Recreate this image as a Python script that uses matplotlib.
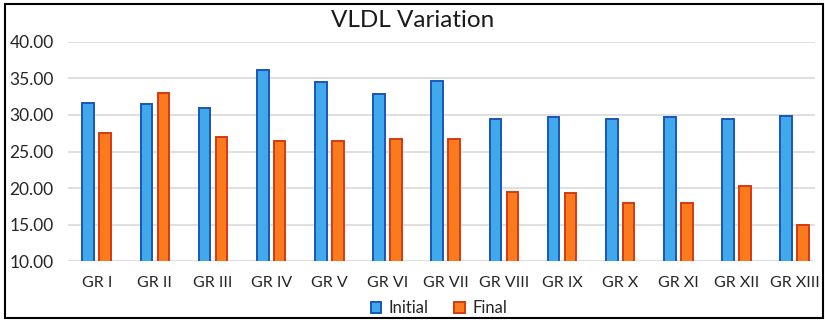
import matplotlib.pyplot as plt
import numpy as np

groups = ["GR I", "GR II", "GR III", "GR IV", "GR V", "GR VI", "GR VII",
          "GR VIII", "GR IX", "GR X", "GR XI", "GR XII", "GR XIII"]
initial = [31.6, 31.5, 30.9, 36.2, 34.5, 32.9, 34.7, 29.45, 29.7, 29.45, 29.7, 29.45, 29.8]
final = [27.5, 33.0, 27.0, 26.5, 26.5, 26.7, 26.7, 19.4, 19.3, 18.0, 18.0, 20.3, 14.9]
yticks = [10, 15, 20, 25, 30, 35, 40]

plt.rcParams['font.family'] = ['Lato', 'DejaVu Sans']

fig = plt.figure(figsize=(8.25, 3.22), dpi=100)
ax = fig.add_axes([0.082, 0.189, 0.906, 0.681])

x = np.arange(len(groups))
w = 0.2
off = 0.145
ax.bar(x - off, initial, w, bottom=0, color='#3FA9EC', edgecolor='#1A56B8',
       linewidth=1.4, label='Initial', zorder=3)
ax.bar(x + off, final, w, bottom=0, color='#FA7B1E', edgecolor='#D63A10',
       linewidth=1.4, label='Final', zorder=3)

ax.set_ylim(10, 40)
ax.set_xlim(-0.5, 12.35)
ax.set_yticks(yticks)
ax.set_yticklabels([f"{v:.2f}" for v in yticks], fontsize=12.5, color='#262626')
ax.set_xticks(x)
ax.set_xticklabels(groups, fontsize=11.5, color='#262626')
ax.tick_params(length=0)
ax.tick_params(axis='x', pad=11)
ax.tick_params(axis='y', pad=10)
ax.yaxis.grid(True, color='#D9D9D9', linewidth=1.2, zorder=0)
for s in ax.spines.values():
    s.set_visible(False)

fig.text(0.5, 0.935, "VLDL Variation", ha='center', va='center', fontsize=17.5, color='#1a1a1a')

leg = fig.legend(loc='center', bbox_to_anchor=(0.532, 0.043), ncol=2, frameon=False,
                 fontsize=12, handlelength=0.65, handleheight=0.65, columnspacing=1.5,
                 handletextpad=0.45, borderpad=0.2)
for t in leg.get_texts():
    t.set_color('#262626')

# outer border like the screenshot
fig.patches.append(plt.Rectangle((0.006, 0.012), 0.991, 0.975, transform=fig.transFigure,
                                 fill=False, edgecolor='black', linewidth=1.5))

fig.savefig('out.png', dpi=100)
